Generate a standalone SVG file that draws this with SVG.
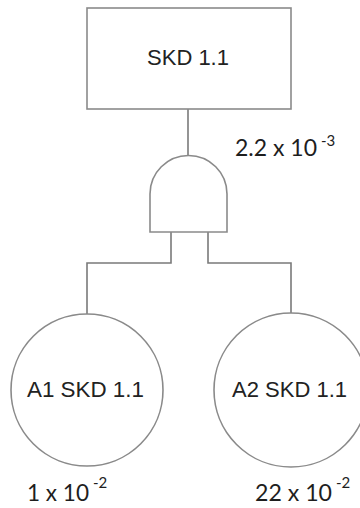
<svg xmlns="http://www.w3.org/2000/svg" width="360" height="508" viewBox="0 0 360 508">
<style>
.shape{fill:#fff;stroke:#8a8a8a;stroke-width:1.6}
.wire{fill:none;stroke:#7a7a7a;stroke-width:1.6}
.lbl{font-family:"Liberation Sans",Arial,sans-serif;font-size:22px;fill:#222}
.num{font-family:Lato,"Open Sans",sans-serif;font-size:24px;fill:#1e1e1e}
.sup{font-family:Lato,"Open Sans",sans-serif;font-size:15px;fill:#1e1e1e}
</style>
<rect width="360" height="508" fill="#fff"/>
<g id="connectors">
<line class="wire" x1="188" y1="109" x2="188" y2="156"/>
<polyline class="wire" points="171,232 171,263 87,263 87,314"/>
<polyline class="wire" points="208,232 208,263 291,263 291,314"/>
</g>
<g id="top">
<rect class="shape" x="87" y="8" width="204" height="101"/>
<text class="lbl" x="188" y="65" text-anchor="middle">SKD 1.1</text>
</g>
<g id="gate">
<path class="shape" d="M150,232 L150,194 A38.5,38.5 0 0 1 227,194 L227,232 Z"/>
<text class="num" x="235" y="156" textLength="82" lengthAdjust="spacingAndGlyphs">2.2 x 10</text>
<text class="sup" x="321" y="146">-3</text>
</g>
<g id="a1">
<circle class="shape" cx="87" cy="390" r="76"/>
<text class="lbl" x="27" y="397" textLength="117" lengthAdjust="spacingAndGlyphs">A1 SKD 1.1</text>
<text class="num" x="27" y="501" textLength="62" lengthAdjust="spacingAndGlyphs">1 x 10</text>
<text class="sup" x="93" y="488">-2</text>
</g>
<g id="a2">
<circle class="shape" cx="291" cy="390" r="77"/>
<text class="lbl" x="232" y="397" textLength="115" lengthAdjust="spacingAndGlyphs">A2 SKD 1.1</text>
<text class="num" x="255" y="501" textLength="77" lengthAdjust="spacingAndGlyphs">22 x 10</text>
<text class="sup" x="336" y="488">-2</text>
</g>
</svg>
